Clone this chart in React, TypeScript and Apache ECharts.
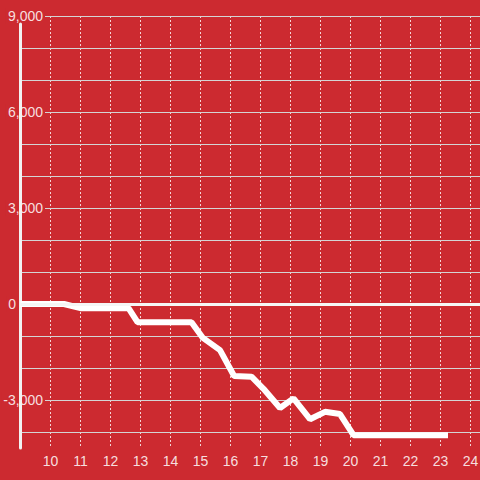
import { useEffect, useRef } from "react";
import * as echarts from "echarts";

const hours = [9, 10.45, 11, 12.6, 12.9, 14.7, 15.08, 15.65, 16.12, 16.7, 17.1, 17.65, 18.1, 18.65, 19.15, 19.65, 20.1, 23.25];
const values = [0, 0, -130, -130, -570, -570, -1060, -1440, -2250, -2270, -2650, -3250, -2950, -3600, -3370, -3440, -4100, -4100];
const xMin = 9;
const xMax = 25;
const yGridMin = -4000;
const yMin = -4500;
const yMax = 9000;

const RED = "#cc2a30";
const TEXT = "rgba(255,255,255,0.86)";
const FONT = "Liberation Sans, Arial, sans-serif";

export default function App() {
  const ref = useRef<HTMLDivElement>(null);
  useEffect(() => {
    if (!ref.current) return;
    const chart = echarts.init(ref.current, null, { renderer: "svg" });
    chart.setOption({
      animation: false,
      backgroundColor: RED,
      textStyle: { fontFamily: FONT },
      grid: [
        { left: 20, right: 0, top: 16, bottom: 48, outerBoundsMode: "none", containLabel: false },
        { left: 20.5, right: -20.5, top: 16, bottom: 32, outerBoundsMode: "none", containLabel: false },
        { left: 20, right: 0, top: 24, bottom: 32, outerBoundsMode: "none", containLabel: false },
      ],
      xAxis: [
        { gridIndex: 0, type: "value", min: 0, max: 1, show: false },
        {
          gridIndex: 1,
          type: "value",
          min: xMin,
          max: xMax,
          interval: 1,
          z: 0,
          axisLine: { show: false },
          axisTick: { show: false },
          splitLine: { show: true, lineStyle: { color: "rgba(255,255,255,0.8)", width: 1, type: [2, 2] } },
          axisLabel: {
            margin: 6,
            color: TEXT,
            fontSize: 14,
            fontFamily: FONT,
            formatter: (v: number) => (v > xMin && v < xMax ? String(v) : ""),
          },
        },
        { gridIndex: 2, type: "value", min: 0, max: 1, show: false },
      ],
      yAxis: [
        {
          gridIndex: 0,
          type: "value",
          min: yGridMin,
          max: yMax,
          interval: 1000,
          z: 1,
          axisLine: { show: false },
          axisTick: { show: false },
          splitLine: { show: true, lineStyle: { color: "#d4d4d4", width: 1 } },
          axisLabel: {
            margin: -25,
            formatter: (v: number) => {
              if (v % 3000 !== 0) return "";
              if (v === 0) return "{z|0}{sp|}";
              return "{n|" + v.toLocaleString("en-US") + "}";
            },
            rich: {
              n: { color: TEXT, fontSize: 14, fontFamily: FONT, backgroundColor: RED, padding: [1, 2] },
              z: { color: TEXT, fontSize: 14, fontFamily: FONT, backgroundColor: RED, padding: [1, 2] },
              sp: { width: 27 },
            },
          },
        },
        { gridIndex: 1, type: "value", min: yMin, max: yMax, show: false },
        {
          gridIndex: 2,
          type: "value",
          min: 0,
          max: 1,
          z: 3,
          axisLine: { show: true, lineStyle: { color: "#f2f2f2", width: 3 } },
          axisTick: { show: false },
          axisLabel: { show: false },
          splitLine: { show: false },
        },
      ],
      series: [
        {
          type: "line",
          xAxisIndex: 1,
          yAxisIndex: 1,
          z: 4,
          symbol: "none",
          data: hours.map((h, i) => [h, values[i]]),
          lineStyle: { color: "#ffffff", width: 6 },
          markLine: {
            silent: true,
            symbol: ["none", "none"],
            label: { show: false },
            lineStyle: { color: "#f5f5f5", width: 3, type: "solid" },
            data: [{ yAxis: 0 }],
          },
        },
      ],
    });
    return () => chart.dispose();
  }, []);
  return <div ref={ref} style={{ position: "fixed", left: 0, top: 0, width: 480, height: 480 }} />;
}
